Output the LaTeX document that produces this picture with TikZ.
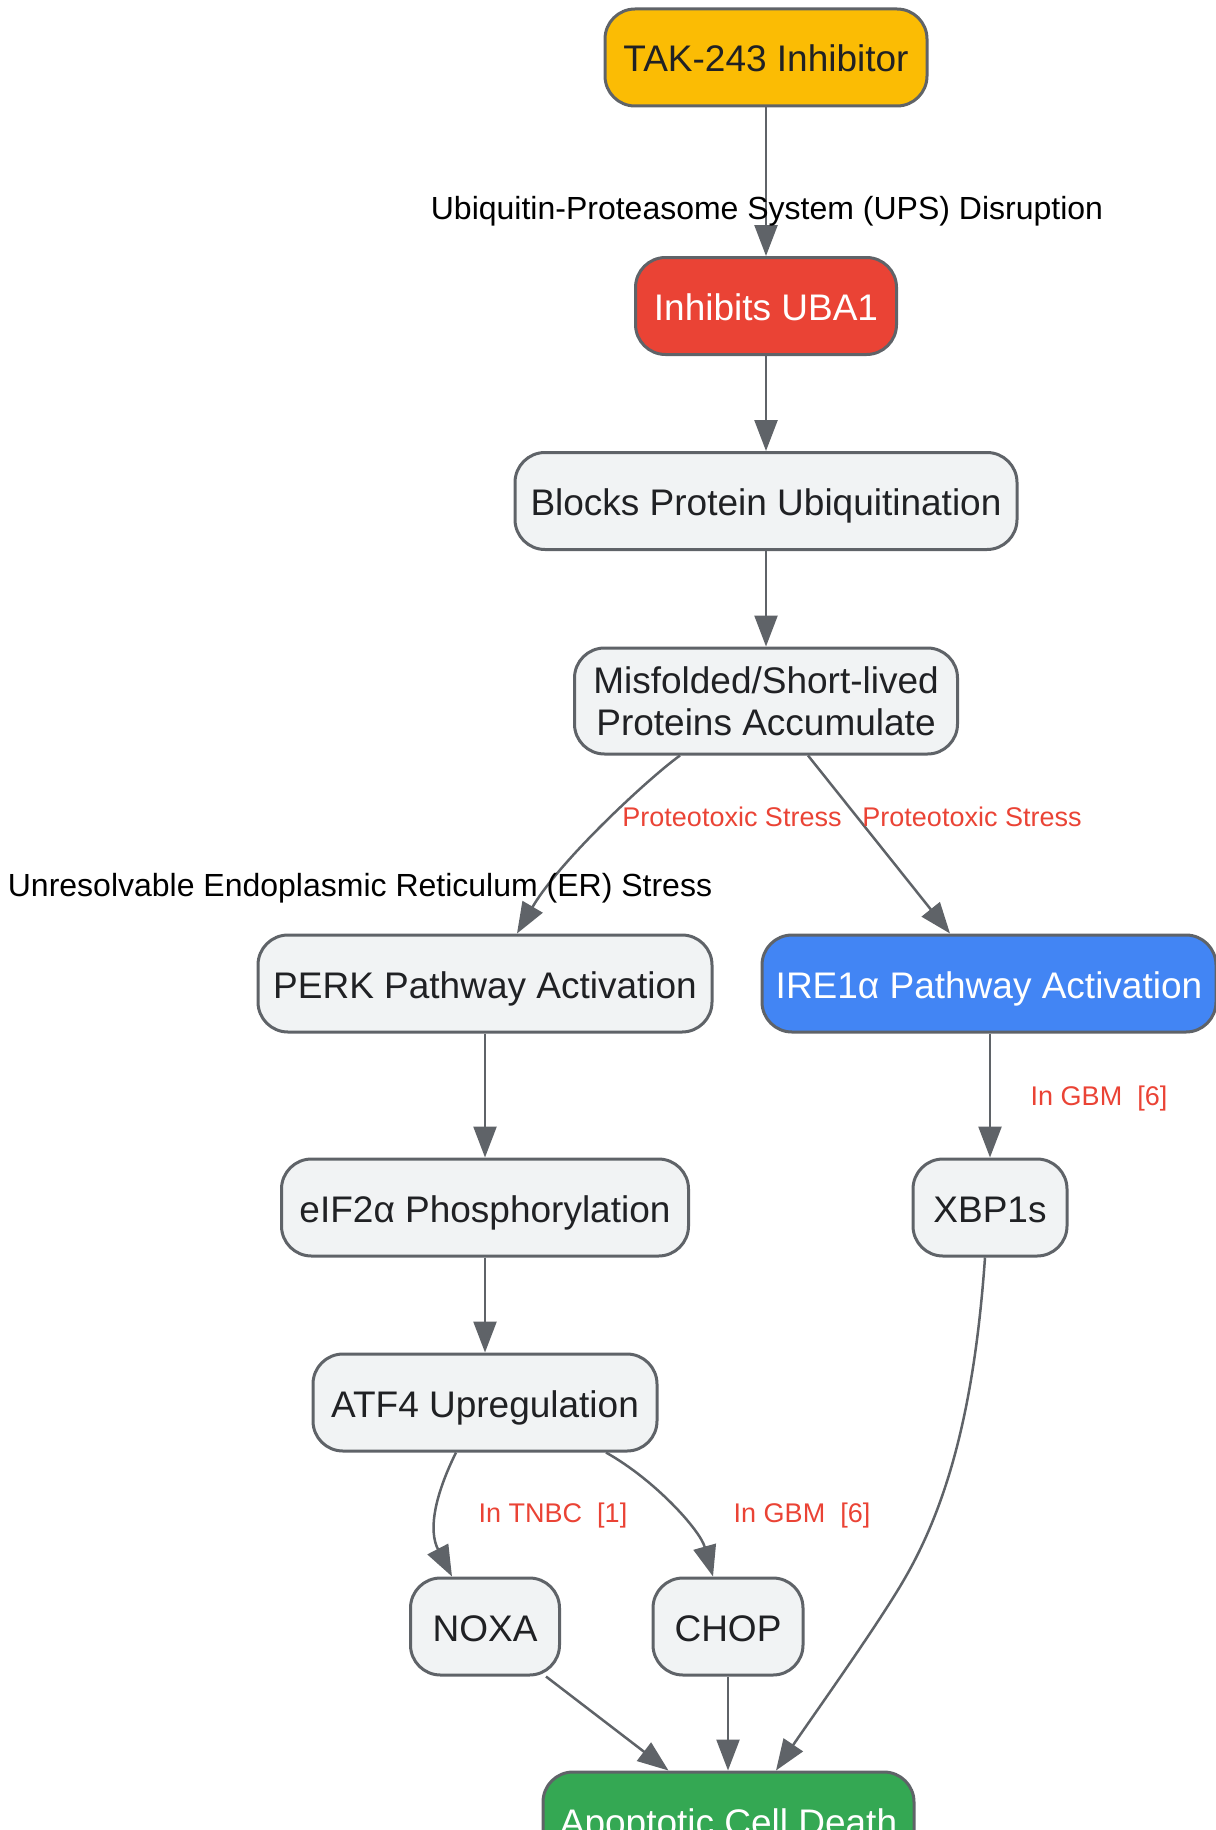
\documentclass[tikz,border=0pt]{standalone}
\usepackage{fontspec}
\setmainfont{Liberation Sans}
\usetikzlibrary{arrows.meta,calc}
\definecolor{edgec}{HTML}{5F6368}
\definecolor{txtc}{HTML}{202124}
\definecolor{lightc}{HTML}{F1F3F4}
\definecolor{yellowc}{HTML}{FBBC04}
\definecolor{redc}{HTML}{EA4335}
\definecolor{bluec}{HTML}{4285F4}
\definecolor{greenc}{HTML}{34A853}
\begin{document}
\begin{tikzpicture}[x=1pt,y=-1pt,
  box/.style={draw=edgec, line width=3pt, rounded corners=30pt, minimum height=97pt,
    inner sep=0pt, align=center, font=\fontsize{37}{42}\selectfont, text=txtc, fill=lightc},
  oneline/.style={text height=29pt, text depth=0pt},
  conn/.style={draw=edgec, line width=2.5pt, -{Triangle[length=31pt,width=23pt]}},
  elab/.style={font=\fontsize{32}{36}\selectfont, text=black, inner sep=0pt},
  rlab/.style={font=\fontsize{27}{30}\selectfont, text=redc, inner sep=0pt}]
\useasboundingbox (0,0) rectangle (1215,1830);

% nodes
\node[box, oneline, fill=yellowc, minimum width=322pt] (tak) at (766,57.5) {TAK-243 Inhibitor};
\node[box, oneline, fill=redc, text=white, minimum width=261pt] (uba) at (766,306) {Inhibits UBA1};
\node[box, oneline, minimum width=502pt] (blk) at (766,501) {Blocks Protein Ubiquitination};
\node[box, minimum width=383pt, minimum height=106pt] (mis) at (766,701) {Misfolded/Short-lived\\Proteins Accumulate};
\node[box, oneline, minimum width=454pt] (perk) at (485,983.5) {PERK Pathway Activation};
\node[box, oneline, fill=bluec, text=white, minimum width=454pt] (ire) at (989,983.5) {IRE1α Pathway Activation};
\node[box, oneline, minimum width=407pt] (eif) at (485,1207.5) {eIF2α Phosphorylation};
\node[box, oneline, minimum width=154pt] (xbp) at (990,1207.5) {XBP1s};
\node[box, oneline, minimum width=344pt] (atf) at (485,1402.5) {ATF4 Upregulation};
\node[box, oneline, minimum width=149pt] (noxa) at (485,1626.5) {NOXA};
\node[box, oneline, minimum width=150pt] (chop) at (728,1626.5) {CHOP};
\node[box, oneline, fill=greenc, text=white, minimum width=371pt] (apop) at (728.5,1820.5) {Apoptotic Cell Death};

% connectors
\draw[conn] (tak.south) -- (uba.north);
\draw[conn] (uba.south) -- (blk.north);
\draw[conn] (blk.south) -- (mis.north);
\draw[conn] ($(mis.south)+(-86,0)$) .. controls (650,777) and (560,860) .. ($(perk.north)+(32,0)$);
\draw[conn] ($(mis.south)+(42,0)$) -- ($(ire.north)+(-39,0)$);
\draw[conn] (perk.south) -- (eif.north);
\draw[conn] (ire.south -| xbp.north) -- (xbp.north);
\draw[conn] (eif.south) -- (atf.north);
\draw[conn] ($(atf.south)+(-29,0)$) .. controls (435,1495) and (428,1530) .. ($(noxa.north)+(-33,0)$);
\draw[conn] ($(atf.south)+(121,0)$) .. controls (655,1480) and (700,1530) .. ($(chop.north)+(-15,0)$);
\draw[conn] ($(noxa.south)+(61,0)$) -- ($(apop.north)+(-60,0)$);
\draw[conn] (chop.south) -- (apop.north -| chop.south);
\draw[conn] ($(xbp.south)+(-5,0)$) .. controls (975,1400) and (950,1500) .. (905,1578)
  .. controls (878,1625) and (810,1720) .. ($(apop.north)+(47.5,0)$);

% labels
\node[elab] (l1) at (767,211.5) {Ubiquitin-Proteasome System (UPS) Disruption};
\node[elab] (l2) at (360,888.5) {Unresolvable Endoplasmic Reticulum (ER) Stress};
\node[rlab] (l3) at (732,817) {Proteotoxic Stress};
\node[rlab] (l4) at (972,817) {Proteotoxic Stress};
\node[rlab] (l5) at (1099,1099) {In GBM~~[6]};
\node[rlab] (l6) at (553,1516) {In TNBC~~[1]};
\node[rlab] (l7) at (802,1516) {In GBM~~[6]};
\end{tikzpicture}
\end{document}
